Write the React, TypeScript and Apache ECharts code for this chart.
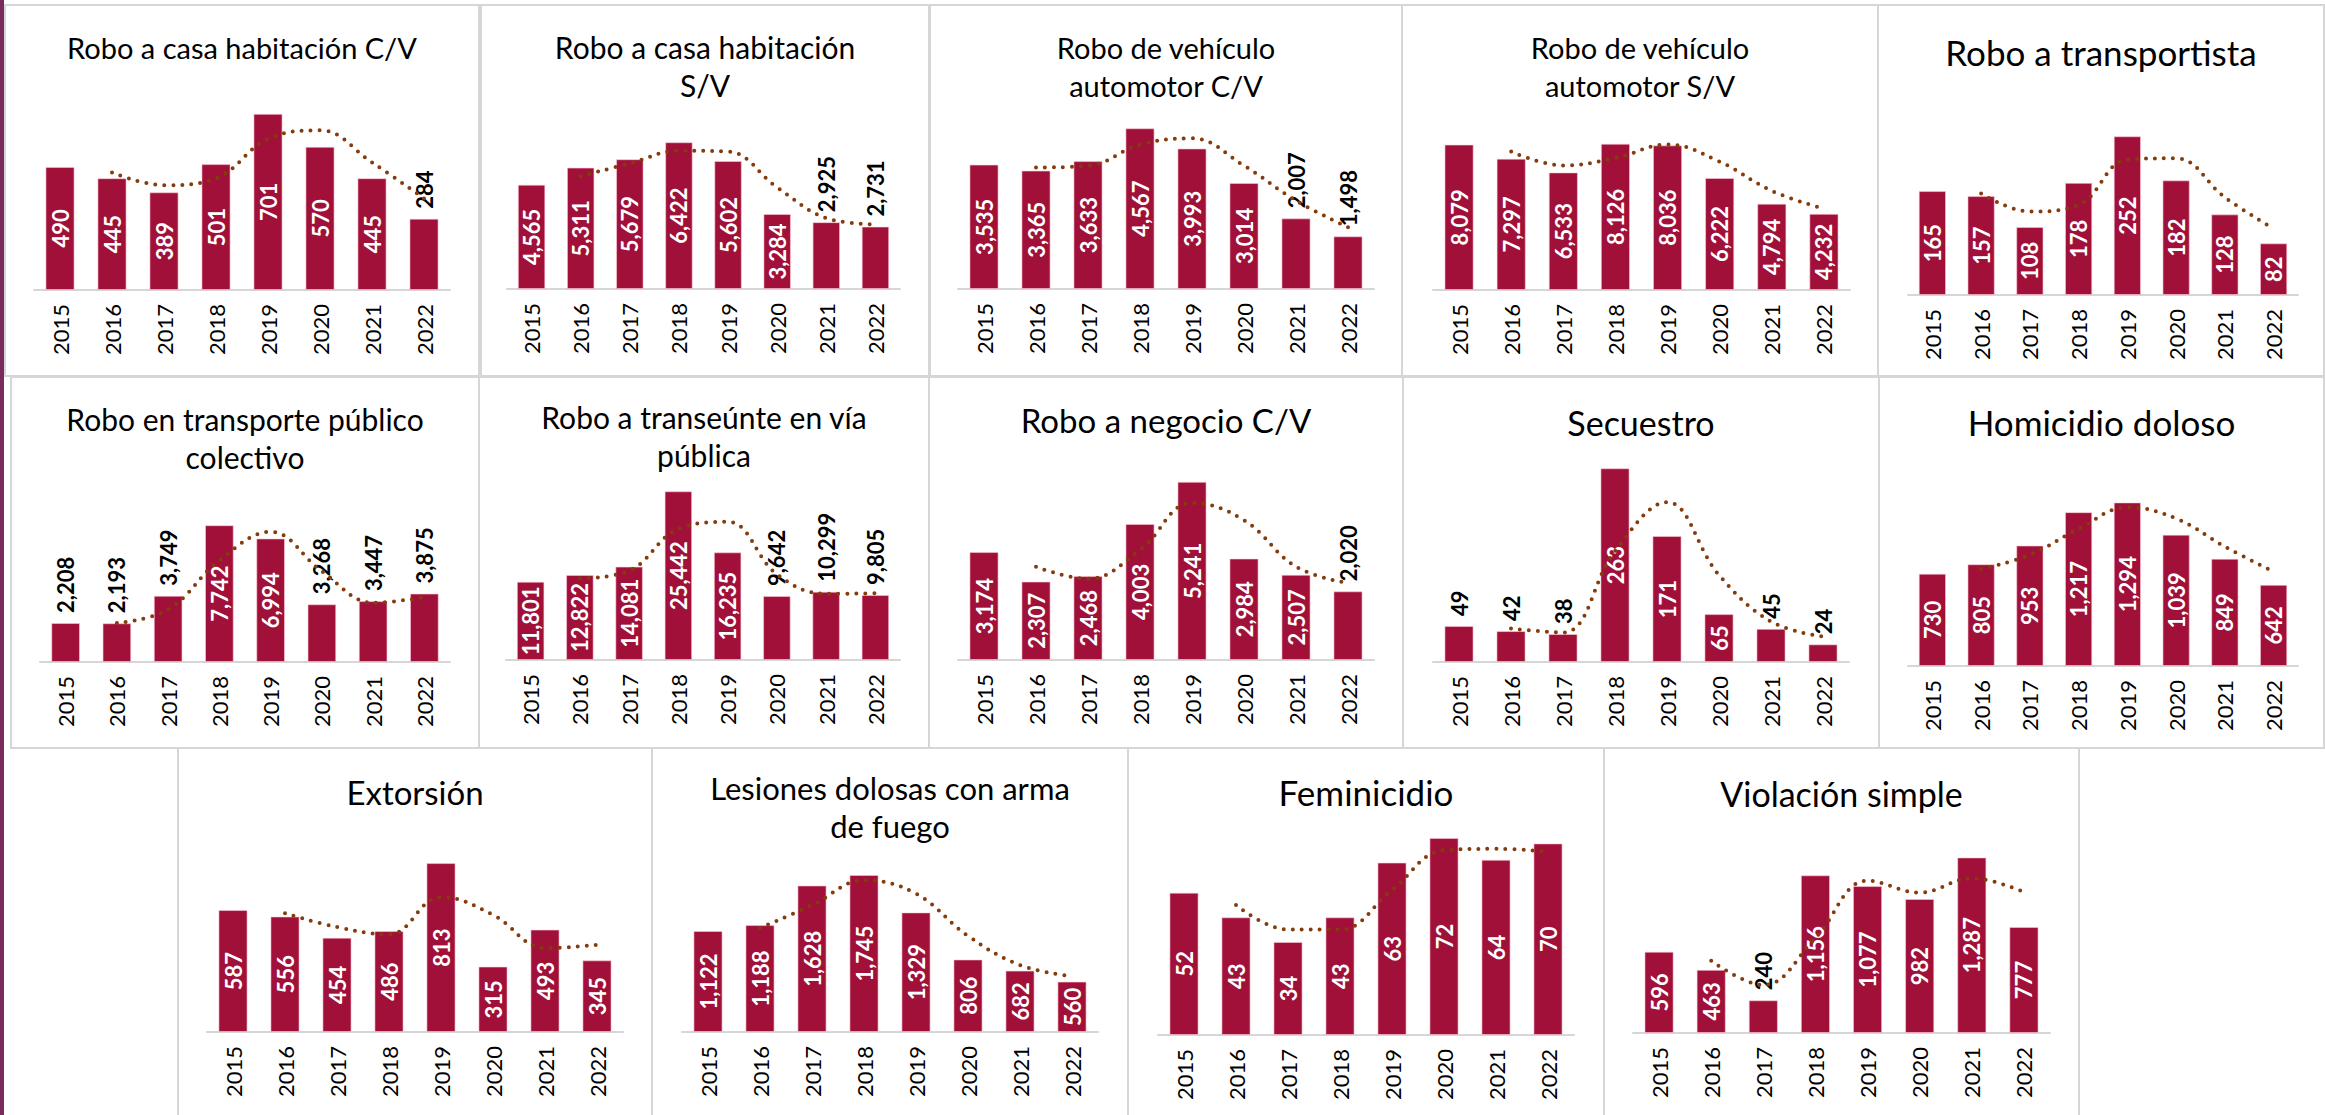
import React, { useEffect, useRef } from "react";
import * as echarts from "echarts";

// ---------- DATA ----------
const YEARS = ["2015", "2016", "2017", "2018", "2019", "2020", "2021", "2022"];

const TITLES = [
  "Robo a casa habitación C/V",
  "Robo a casa habitación\nS/V",
  "Robo de vehículo\nautomotor C/V",
  "Robo de vehículo\nautomotor S/V",
  "Robo a transportista",
  "Robo en transporte público\ncolectivo",
  "Robo a transeúnte en vía\npública",
  "Robo a negocio C/V",
  "Secuestro",
  "Homicidio doloso",
  "Extorsión",
  "Lesiones dolosas con arma\nde fuego",
  "Feminicidio",
  "Violación simple",
];

const roboCasaCV = [490, 445, 389, 501, 701, 570, 445, 284];
const roboCasaSV = [4565, 5311, 5679, 6422, 5602, 3284, 2925, 2731];
const roboVehiculoCV = [3535, 3365, 3633, 4567, 3993, 3014, 2007, 1498];
const roboVehiculoSV = [8079, 7297, 6533, 8126, 8036, 6222, 4794, 4232];
const roboTransportista = [165, 157, 108, 178, 252, 182, 128, 82];
const roboTransportePublico = [2208, 2193, 3749, 7742, 6994, 3268, 3447, 3875];
const roboTranseunte = [11801, 12822, 14081, 25442, 16235, 9642, 10299, 9805];
const roboNegocioCV = [3174, 2307, 2468, 4003, 5241, 2984, 2507, 2020];
const secuestro = [49, 42, 38, 263, 171, 65, 45, 24];
const homicidioDoloso = [730, 805, 953, 1217, 1294, 1039, 849, 642];
const extorsion = [587, 556, 454, 486, 813, 315, 493, 345];
const lesionesArmaFuego = [1122, 1188, 1628, 1745, 1329, 806, 682, 560];
const feminicidio = [52, 43, 34, 43, 63, 72, 64, 70];
const violacionSimple = [596, 463, 240, 1156, 1077, 982, 1287, 777];

const VALUES = [
  roboCasaCV, roboCasaSV, roboVehiculoCV, roboVehiculoSV, roboTransportista,
  roboTransportePublico, roboTranseunte, roboNegocioCV, secuestro, homicidioDoloso,
  extorsion, lesionesArmaFuego, feminicidio, violacionSimple,
];

// Axis maxima (hidden value axes)
const Y_MAX = [800, 7000, 5000, 9000, 300, 9000, 30000, 6000, 300, 1400, 900, 2000, 80, 1400];

// Indices of bars whose label sits above the bar (black)
const OUTSIDE_LABELS = [[7], [6, 7], [6, 7], [], [], [0, 1, 2, 5, 6, 7], [5, 6, 7], [7], [0, 1, 2, 6, 7], [], [], [], [], [2]];

// ---------- LAYOUT ----------
type Panel = { box: number[]; gl: number; gw: number; gt: number; base: number; ty: number; fs: number };
const PANELS: Panel[] = [
  { box: [5, 5, 479, 376], gl: 34, gw: 416, gt: 89, base: 290, ty: 47, fs: 29 },
  { box: [481, 5, 929, 376], gl: 507, gw: 393, gt: 129, base: 289, ty: 47, fs: 30 },
  { box: [930, 5, 1402, 376], gl: 958, gw: 416, gt: 113, base: 289, ty: 47, fs: 29 },
  { box: [1402, 5, 1878, 376], gl: 1433, gw: 417, gt: 128, base: 290, ty: 47, fs: 29 },
  { box: [1878, 5, 2324, 376], gl: 1908, gw: 390, gt: 106, base: 295, ty: 52, fs: 35 },
  { box: [11, 377, 479, 748], gl: 40, gw: 410, gt: 503, base: 662, ty: 419, fs: 30 },
  { box: [479, 377, 929, 748], gl: 506, gw: 394, gt: 461, base: 660, ty: 417, fs: 30 },
  { box: [929, 377, 1403, 748], gl: 958, gw: 416, gt: 456, base: 660, ty: 420, fs: 33 },
  { box: [1403, 377, 1879, 748], gl: 1433, gw: 416, gt: 441, base: 662, ty: 422, fs: 34 },
  { box: [1879, 377, 2324, 748], gl: 1908, gw: 390, gt: 489, base: 666, ty: 422, fs: 35 },
  { box: [178, 748, 652, 1130], gl: 207, gw: 416, gt: 845, base: 1032, ty: 792, fs: 33 },
  { box: [652, 748, 1128, 1130], gl: 682, gw: 416, gt: 852, base: 1032, ty: 788, fs: 31 },
  { box: [1128, 748, 1604, 1130], gl: 1158, gw: 416, gt: 816, base: 1035, ty: 792, fs: 35 },
  { box: [1604, 748, 2079, 1130], gl: 1633, gw: 417, gt: 842, base: 1033, ty: 793, fs: 34 },
];

const BAR_COLOR = "#A01038";
const TREND_COLOR = "#843C0C";
const BORDER_COLOR = "#D6D6D6";
const FONT = "Lato, 'Open Sans', sans-serif";

// Excel 2-period moving-average trendline derived from the bar values
function trend2(v: number[]) {
  return v.map((x, i) => (i === 0 ? null : (x + v[i - 1]) / 2));
}

const fmt = (n: number) => n.toLocaleString("en-US");

export default function App() {
  const ref = useRef<HTMLDivElement>(null);

  useEffect(() => {
    document.body.style.margin = "0";
    if (!ref.current) return;
    const chart = echarts.init(ref.current, null, { renderer: "svg" });

    const grid: any[] = [];
    const xAxis: any[] = [];
    const yAxis: any[] = [];
    const series: any[] = [];
    const graphic: any[] = [];

    graphic.push({
      type: "rect",
      shape: { x: 0, y: 0, width: 4, height: 1115 },
      style: { fill: "#7A2A5C" },
      z: 10,
    });

    PANELS.forEach((p, i) => {
      const [x0, y0, x1, y1] = p.box;
      graphic.push({
        type: "rect",
        shape: { x: x0, y: y0, width: x1 - x0, height: y1 - y0 },
        style: { fill: "none", stroke: BORDER_COLOR, lineWidth: 2 },
        z: 0,
      });
      const lines = TITLES[i].split("\n").length;
      graphic.push({
        type: "text",
        x: (x0 + x1) / 2,
        y: p.ty + 19 * (lines - 1),
        style: {
          text: TITLES[i],
          fill: "#000",
          fontSize: p.fs,
          fontFamily: FONT,
          align: "center",
          verticalAlign: "middle",
          lineHeight: 38,
        },
        z: 5,
      });

      grid.push({ left: p.gl, top: p.gt, width: p.gw, height: p.base - p.gt, containLabel: false });
      xAxis.push({
        type: "category",
        gridIndex: i,
        data: YEARS,
        boundaryGap: true,
        axisTick: { show: false },
        axisLine: { show: true, lineStyle: { color: BORDER_COLOR, width: 2 } },
        axisLabel: { rotate: 90, interval: 0, margin: 14, color: "#000", fontSize: 22, fontFamily: FONT },
        splitLine: { show: false },
      });
      yAxis.push({ type: "value", gridIndex: i, min: 0, max: Y_MAX[i], show: false, splitLine: { show: false } });

      const outside = OUTSIDE_LABELS[i];
      series.push({
        type: "bar",
        xAxisIndex: i,
        yAxisIndex: i,
        barWidth: "56%",
        itemStyle: { color: BAR_COLOR, borderColor: "rgba(255,200,215,0.6)", borderWidth: 1 },
        label: {
          show: true,
          position: "inside",
          rotate: 90,
          color: "#fff",
          fontWeight: "bold",
          fontSize: 22,
          fontFamily: FONT,
          formatter: (d: any) => fmt(d.value),
        },
        data: VALUES[i].map((v, j) =>
          outside.includes(j)
            ? {
                value: v,
                label: { position: "top", align: "left", verticalAlign: "middle", color: "#000", distance: 10 },
              }
            : v
        ),
        z: 2,
      });
      series.push({
        type: "line",
        xAxisIndex: i,
        yAxisIndex: i,
        data: trend2(VALUES[i]),
        smooth: 0.4,
        showSymbol: false,
        symbol: "none",
        connectNulls: false,
        lineStyle: { color: TREND_COLOR, width: 4, type: [0, 9], cap: "round" },
        z: 3,
        silent: true,
      });
    });

    chart.setOption({
      animation: false,
      backgroundColor: "#fff",
      grid,
      xAxis,
      yAxis,
      series,
      graphic,
    });

    return () => chart.dispose();
  }, []);

  return <div ref={ref} style={{ width: 2325, height: 1115 }} />;
}
